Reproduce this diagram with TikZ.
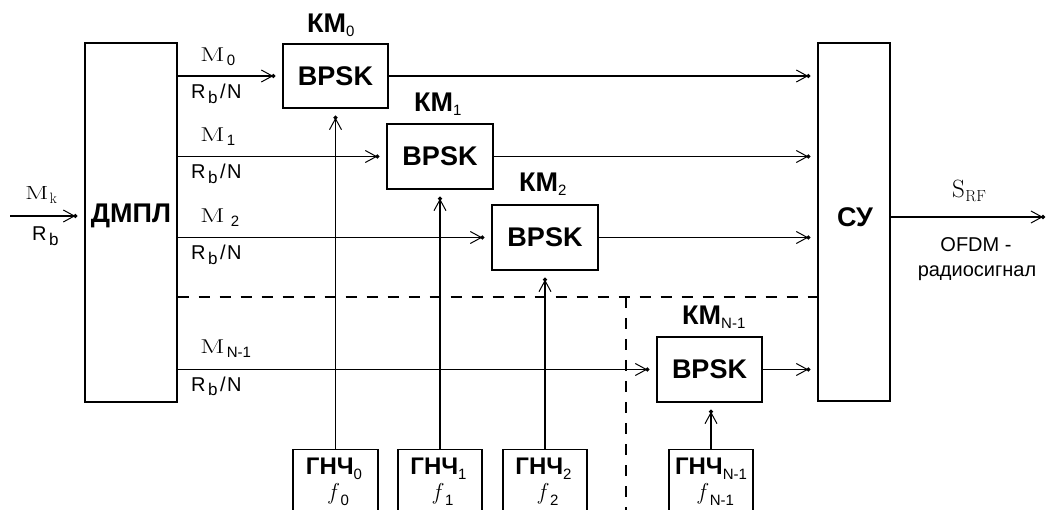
\documentclass[tikz,border=0pt]{standalone}
\usepackage{fontspec}
\usepackage{graphicx}
\usetikzlibrary{arrows.meta}
\newfontfamily\arial{Liberation Sans}
\newcommand\ssub[3][14]{\raisebox{#2}{\arial\mdseries\fontsize{#1}{#1}\selectfont #3}}
\newcommand\Mlet[1][20]{\scalebox{1.45}[1]{\fontsize{#1}{#1}\selectfont M}}
\newcommand\Mlab[1]{\Mlet\kern2pt\ssub[15]{-4pt}{#1}}
\newcommand\Rlab{{\arial\fontsize{20}{20}\selectfont R\kern2.5pt\raisebox{-5pt}{\fontsize{17}{17}\selectfont b}\kern2.5pt/\kern1.5pt N}}
\begin{document}
\begin{tikzpicture}[x=1pt,y=-1pt,
  box/.style={draw,line width=1.3pt,inner sep=0pt},
  blk/.style={box,font=\arial\bfseries\fontsize{27}{29}\selectfont},
  bt/.style={inner sep=0pt,font=\arial\bfseries\fontsize{27}{29}\selectfont},
  gt/.style={inner sep=0pt,anchor=base,font=\arial\bfseries\fontsize{24}{26}\selectfont},
  con/.style={line width=1.3pt,-{Straight Barb[length=11pt,width=12pt,line width=1pt,sep=-2pt]Circle[length=4pt]},shorten >=7pt},
  sepline/.style={line width=1.3pt,dash pattern=on 11pt off 10pt},
  lbl/.style={inner sep=0pt,anchor=base west},
  ct/.style={inner sep=0pt,anchor=base,font=\arial\fontsize{20}{20}\selectfont}]
\useasboundingbox (0,0) rectangle (1049,510);
\clip (0,0) rectangle (1049,510);

% main blocks
\node[box,minimum width=92,minimum height=359] (dmpl) at (131,222.5) {};
\node[bt,anchor=base] (dmplt) at (131,223) {ДМПЛ};
\node[box,minimum width=72,minimum height=358] (su) at (854,222) {};
\node[bt,anchor=base] (sut) at (855,227) {СУ};

% modulators
\node[blk,minimum width=105,minimum height=64] (km0) at (335.5,76) {BPSK};
\node[blk,minimum width=106,minimum height=65] (km1) at (440,156.5) {BPSK};
\node[blk,minimum width=106,minimum height=65] (km2) at (545,237.5) {BPSK};
\node[blk,minimum width=105,minimum height=65] (kmn) at (709.5,369.5) {BPSK};

\node[bt,anchor=base west] (km0l) at (307,33) {КМ\ssub[15]{-4pt}{0}};
\node[bt,anchor=base west] (km1l) at (414,112) {КМ\ssub[15]{-4pt}{1}};
\node[bt,anchor=base west] (km2l) at (519,192) {КМ\ssub[15]{-4pt}{2}};
\node[bt,anchor=base west] (kmnl) at (682,325) {КМ\ssub[15]{-4pt}{N-1}};

% generators
\node[box,minimum width=85,minimum height=66,anchor=north] (g0) at (335.5,449) {};
\node[box,minimum width=84,minimum height=66,anchor=north] (g1) at (440,449) {};
\node[box,minimum width=84,minimum height=66,anchor=north] (g2) at (545,449) {};
\node[box,minimum width=84,minimum height=66,anchor=north] (gn) at (711,449) {};

\node[gt] (g0t) at (334,474) {ГНЧ\ssub[15]{-5pt}{0}};
\node[gt] (g1t) at (438.5,474) {ГНЧ\ssub[15]{-5pt}{1}};
\node[gt] (g2t) at (543.5,474) {ГНЧ\ssub[15]{-5pt}{2}};
\node[gt] (gnt) at (711,474) {ГНЧ\ssub[15]{-5pt}{N-1}};
\node[inner sep=0pt,anchor=base] (g0f) at (339,499) {\fontsize{23}{23}\selectfont\textit{f}\kern1.5pt\ssub[15]{-6pt}{0}};
\node[inner sep=0pt,anchor=base] (g1f) at (443.5,499) {\fontsize{23}{23}\selectfont\textit{f}\kern1.5pt\ssub[15]{-6pt}{1}};
\node[inner sep=0pt,anchor=base] (g2f) at (548.5,499) {\fontsize{23}{23}\selectfont\textit{f}\kern1.5pt\ssub[15]{-6pt}{2}};
\node[inner sep=0pt,anchor=base] (gnf) at (716,499) {\fontsize{23}{23}\selectfont\textit{f}\kern1.5pt\ssub[15]{-6pt}{N-1}};

% input
\coordinate (inp) at (10,216);
\draw[con] (inp) -- (inp -| dmpl.west);
\node[lbl] (mk) at (25,200) {\Mlet[19]\kern1pt{\fontsize{15}{15}\selectfont\raisebox{-4pt}{k}}};
\node[lbl] (rb) at (32,241) {{\arial\fontsize{20}{20}\selectfont R\kern2.5pt\raisebox{-5pt}{\fontsize{17}{17}\selectfont b}}};

% demux to modulators
\draw[con] (dmpl.east |- km0.west) -- (km0.west);
\draw[con] (dmpl.east |- km1.west) -- (km1.west);
\draw[con] (dmpl.east |- km2.west) -- (km2.west);
\draw[con] (dmpl.east |- kmn.west) -- (kmn.west);

\node[lbl] (m0) at (200,62) {\Mlab{0}};
\node[lbl] (m1) at (200,142) {\Mlab{1}};
\node[lbl] (m2) at (200,223) {\Mlet\kern6pt\ssub[15]{-4pt}{2}};
\node[lbl] (mn) at (200,354) {\Mlab{N-1}};
\node[lbl] (r0) at (191,99) {\Rlab};
\node[lbl] (r1) at (191,179) {\Rlab};
\node[lbl] (r2) at (191,260) {\Rlab};
\node[lbl] (rn) at (191,391) {\Rlab};

% modulators to summer
\draw[con] (km0.east) -- (km0.east -| su.west);
\draw[con] (km1.east) -- (km1.east -| su.west);
\draw[con] (km2.east) -- (km2.east -| su.west);
\draw[con] (kmn.east) -- (kmn.east -| su.west);

% generators to modulators
\draw[con] (g0.north) -- (g0.north |- km0.south);
\draw[con] (g1.north) -- (g1.north |- km1.south);
\draw[con] (g2.north) -- (g2.north |- km2.south);
\draw[con] (gn.north) -- (gn.north |- kmn.south);

% output
\coordinate (outp) at (1052,217);
\draw[con] (su.east |- outp) -- (outp);
\node[lbl] (srf) at (952,198) {\fontsize{25}{25}\selectfont S\kern0.5pt\raisebox{-4pt}{\fontsize{16}{16}\selectfont RF}};
\node[ct] (ofdm) at (976,252) {OFDM -};
\node[ct] (radio) at (977,277) {радиосигнал};

% dashed separators
\coordinate (dh) at (0,297);
\draw[sepline] (dmpl.east |- dh) -- (su.west |- dh);
\coordinate (dvt) at (626,297);
\coordinate (dvb) at (626,515);
\draw[sepline] (dvt) -- (dvb);
\end{tikzpicture}
\end{document}
